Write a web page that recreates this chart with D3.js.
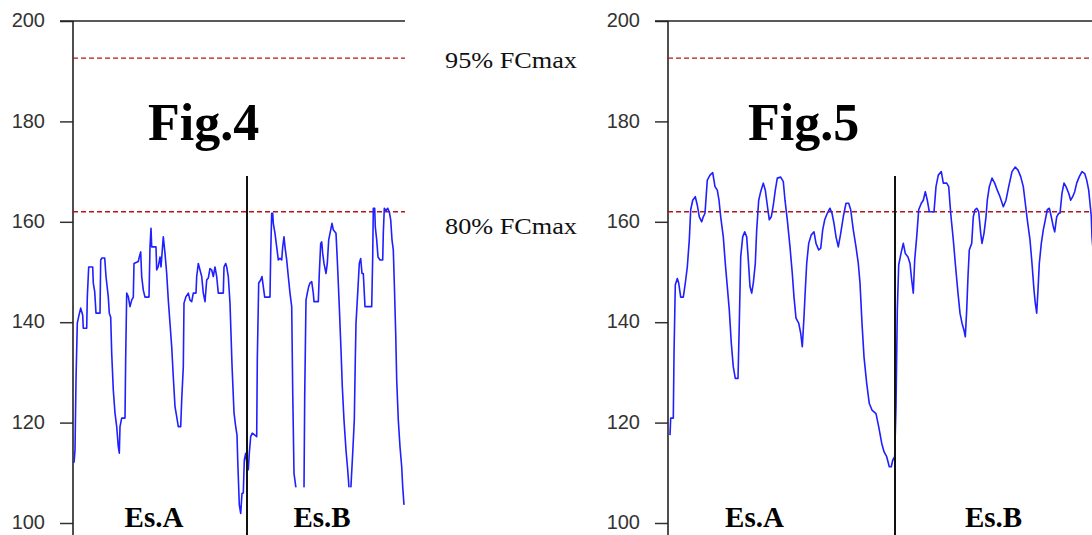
<!DOCTYPE html>
<html><head><meta charset="utf-8">
<script src="https://cdn.jsdelivr.net/npm/d3@7"></script>
<style>
html,body{margin:0;padding:0;background:#fff;}
svg{display:block;}
</style></head>
<body>
<svg id="c" width="1092" height="535"></svg>
<script>
// ---------- DATA ----------
const yTicks = [100, 120, 140, 160, 180, 200];
const thresholdLabels = ["95% FCmax", "80% FCmax"];
const thresholdValues = [192.6, 162];
const sessionLabels = ["Es.A", "Es.B"];

// Fig.4 heart rate trace (time in samples, HR in bpm)
const fig4Time = [
1,2,3,4.3,6,7.7,9.7,10.3,13.7,14.3,
15.7,19.7,20.3,21.7,23,27,27.7,29,31.7,33,
35.3,36.3,37.7,38.7,40.3,42,43.7,45.3,46.3,47,
48.7,52,52.7,53.7,55.3,57,58.7,60.3,61,65.3,
66.3,67.7,68.7,70.3,72,76,77,78,78.7,83,
83.7,85.3,87,88,89.3,90.3,92,93.7,95.3,97,
98.7,100.3,102,103.7,105.3,107.7,108.7,110.3,111,113,
115.3,117,118.7,120.3,123,123.7,125.3,127,128.7,130.3,
132,133.7,135.3,137,138.7,140.3,142,143.7,145.3,150.3,
151,152.7,153.7,155.3,157,159,161,162.5,164,164.8,
166.3,167.7,169,170.3,171.3,172.7,174.3,175.3,176.3,177.7,
179.3,183.7,184.3,185.7,187.7,189,190.3,191.7,197,197.7,
198.7,199.7,200.3,202,203.7,205.3,207,208.7,209.7,211,
212,213.7,215.3,217,218.7,219.7,221,223,225,229,
231,231.7,233,234.3,235.7,237,238.7,240.3,241,245.3,
246.3,247.7,248.7,249.7,251,253,254.3,255.7,257.7,259,
260.3,263,264.3,266.3,268,269.3,271,273,274.7,276,
277,278,279.7,281.3,282.3,283,284.7,286.3,287.7,289,
290.3,292,298.7,299.7,300.3,301.7,302.3,303.7,305,307,
309.7,310.3,311.3,313,314.7,316.3,317.7,319,320.3,321.3,
322.7,323.7,325.3,327,328.7,329.7,331];
const fig4HR = [
112,114.5,128.5,139.8,141.4,142.8,141.4,138.8,138.8,145,
151,151,147.8,146.1,141.8,141.8,152.4,152.8,152.8,149.1,
145,141.8,141,133.8,126.5,121.9,119.2,115.2,113.9,119.2,
120.9,120.9,133.1,145.8,145.1,143.1,144.4,145,151.7,152.1,
153,154,149.1,146.4,145,145,155,158.7,155,155,
150.4,151.1,153,151,154.4,157,153.7,149.7,144.4,139.8,
135.1,129.1,123.2,121.2,119.2,119.2,124.5,131.1,143.8,145.1,
145.8,144.4,144.1,145.8,145.8,149.1,151.7,150.4,149.1,145.8,
144.1,148.4,148.8,150.7,150.4,149.1,151,149.1,145.8,145.8,
151,151.7,151,149.1,143.8,131.5,122,119.5,117.5,112,
103.6,101.9,105.9,106,112.5,113.9,111.2,110.6,113.9,117.2,
117.9,117.2,132.5,147.8,148.4,149.1,147.1,145,145,153.7,
161.7,161.7,159.7,157.7,155,152.4,152.7,152.4,155,157,
155,152.4,149.1,145.8,143.1,126.5,109.9,106.9,104,104,
106.9,125.2,144.4,145.8,147.1,147.8,148.1,145.8,144.1,144.1,
149.7,155.7,156,153.7,151.7,149.7,151.7,156.4,158.4,159.7,
158.4,157.7,152.4,143.1,134.5,127.2,120.5,114.5,110.6,107,
104.5,107.5,113.9,120.5,132.5,139.8,145.8,151.7,152.7,149.7,
149.7,143.1,143.1,153,162.7,162.7,159,156.4,153,152.4,
152.4,157.7,162.7,162.2,162.7,162,160.4,156.4,154.4,147.8,
137.8,128.5,120.5,115.2,111.2,107.2,103.6];

// Fig.5 heart rate trace
const fig5Time = [2,2.7,5.3,6,7.3,9.3,10.7,12.7,15.3,17.3,19.3,21.3,22.7,24.7,27.3,29.3,31.3,33.7,35.3,37,39.3,42,44.7,47,49.3,51,52.7,55.3,57.3,59.3,61.3,63.3,65.3,67.3,70,71.3,72.7,74.7,76.7,78.7,80.3,82,83.7,85.3,87.3,88.7,90.7,92.7,95.3,97.3,99.3,101.3,103.3,105.3,107.3,109.3,112.7,115.3,117,119.3,122,124.3,126,128,130.7,132.7,134.3,136,137.3,138.7,140.7,143.3,146,148,150.7,152.7,154.7,156.7,159.3,162,164,166,168,170.3,172.7,175.3,178,180.7,182.7,185.3,188,190.3,192,194,196,198.7,201.3,204,208,210.7,213.7,216,218.7,221.3,223.3,224.7,226.7,228,229.3,230.7,233,235.3,237.3,240,242,243.7,245.3,246.7,248.7,250.7,253.3,255.3,257.3,259.3,261.3,266,268,270.3,273.3,275.3,278.7,280.7,282.7,285.3,287.3,290,292,294,296,297.3,298.7,300,301.3,303.7,305.3,307,308.7,310.7,312.7,314,316,318,319.3,321.3,324,326.7,329.3,332,335.3,338,340.7,344,347.3,350,352.7,355.3,357.3,359.3,362,364,366,367.3,368.7,370,371.3,373.3,375.3,377.3,379.3,381.3,383.3,385.3,386.7,388.7,390.7,392,394,396,398,400.7,402.7,404.7,406.7,408.7,411.3,414,416.7,418.7,420.7,422,423.3,424,426];
const fig5HR = [117.5,120.9,120.9,133.5,147.4,148.7,147.8,145,145,147.8,151,156.4,162.4,164.3,165,163.3,161,160,161,161.7,168.3,169.3,169.8,167,166.3,164.3,161,157,151.7,147.1,142.4,135.8,131.1,128.8,128.8,139.8,153,157,158,157,152.4,147.1,145.8,147.8,151.7,158.4,164.3,166,167.7,166.3,163.3,160.4,161,163.3,166.3,168.7,168.9,168,164.3,160.4,155,149.7,145,140.8,139.8,137.8,135.1,141.1,146.4,151.7,155.7,157.4,158,155.7,154.4,154.7,158.4,160.4,161.7,162.7,161.7,159.7,157,155,157.7,161,163.7,163.7,162.4,158.4,155,151.7,147.8,139.8,133.1,127.8,123.8,122.5,121.8,119.2,115.9,114.2,113.2,111.2,111.2,112.5,113.2,123.2,142.4,151.4,153.7,155.7,153.7,153,151.7,148.4,145.8,152.4,157,162.4,163.7,164.3,166,164.3,162,162,167,169.3,170,167.7,167.7,167,161.7,156.4,151.7,145.8,141.8,139.8,138.4,137.1,142.4,149.1,154.4,155.7,161,162.4,162.7,162,157.7,155.7,157.7,161,164.3,167,168.7,167.7,166.3,165,163,164.3,167,170,170.9,170.3,169,167,163.7,160.4,156.4,151.7,146.4,143.8,141.8,146.4,151.7,155.7,158.4,160.4,162.4,162.7,161,159,158,161,161.7,161.7,165.7,167.7,167,165.7,164.3,165,166,167.7,169,170,169.6,168.3,166.3,163.7,161,157,152];

// session divider (sample index) and label anchors (sample index)
const fig4Divider = 174, fig5Divider = 227;
const fig4LabelPos = [81, 249];
const fig5LabelPos = [86.5, 325.5];
const dividerTop = 169.1;

// ---------- DRAW ----------
const svg = d3.select("#c");
const y = d3.scaleLinear().domain([100, 200]).range([523, 21]);

function panel(opt) {
  const x = d3.scaleLinear().domain([0, opt.span]).range([opt.x0, opt.x0 + opt.span]);
  const g = svg.append("g");

  const axis = d3.axisLeft(y).tickValues(yTicks).tickSize(13).tickPadding(15).tickFormat(d3.format("d"));
  const ag = g.append("g").attr("transform", `translate(${opt.x0},0)`).call(axis);
  ag.select(".domain").remove();
  ag.selectAll(".tick line").attr("stroke", "#333").attr("stroke-width", 1.5);
  ag.selectAll(".tick text").attr("fill", "#333").style("font-family", "Liberation Sans, Arial, sans-serif")
    .style("font-size", "20px").attr("dy", "0.28em");
  g.append("line").attr("x1", opt.x0).attr("x2", opt.x0).attr("y1", y(200)).attr("y2", 535)
    .attr("stroke", "#222").attr("stroke-width", 1.6);
  g.append("line").attr("x1", opt.x0 - 13).attr("x2", x(opt.span)).attr("y1", y(200)).attr("y2", y(200))
    .attr("stroke", "#222").attr("stroke-width", 1.5);

  g.selectAll("line.thr").data(thresholdValues).join("line").attr("class", "thr")
    .attr("x1", opt.x0).attr("x2", x(opt.span)).attr("y1", d => y(d)).attr("y2", d => y(d))
    .attr("stroke", "#b41414").attr("stroke-width", 1.3).attr("stroke-dasharray", "5,3");

  const pts = opt.time.map((t, i) => [t, opt.hr[i]]);
  g.append("path").datum(pts)
    .attr("fill", "none").attr("stroke", "#1f1fff").attr("stroke-width", 1.6)
    .attr("stroke-linejoin", "round")
    .attr("d", d3.line().x(d => x(d[0])).y(d => y(d[1])));

  g.append("line").attr("x1", x(opt.divider)).attr("x2", x(opt.divider))
    .attr("y1", y(dividerTop)).attr("y2", 535).attr("stroke", "#111").attr("stroke-width", 2);

  sessionLabels.forEach((s, i) => {
    const cx = x(opt.labelPos[i]);
    g.append("rect").attr("x", cx - 36).attr("y", y(107.1)).attr("width", 72).attr("height", 535 - y(107.1))
      .attr("fill", "#fff");
    g.append("text").attr("x", cx).attr("y", 527).attr("text-anchor", "middle")
      .style("font-family", "Liberation Serif, Times New Roman, serif").style("font-weight", "bold")
      .style("font-size", "29px").attr("fill", "#000").text(s);
  });

  g.append("text").attr("x", opt.titleX).attr("y", 140)
    .style("font-family", "Liberation Serif, Times New Roman, serif").style("font-weight", "bold")
    .style("font-size", "52px").attr("fill", "#000").text(opt.title);
}

panel({x0: 73, span: 332, time: fig4Time, hr: fig4HR, divider: fig4Divider, labelPos: fig4LabelPos, title: "Fig.4", titleX: 148});
panel({x0: 668, span: 440, time: fig5Time, hr: fig5HR, divider: fig5Divider, labelPos: fig5LabelPos, title: "Fig.5", titleX: 748});

const annY = [67.5, 233.5];
thresholdLabels.forEach((t, i) => {
  svg.append("text").attr("x", 445).attr("y", annY[i])
    .attr("textLength", 132).attr("lengthAdjust", "spacingAndGlyphs")
    .style("font-family", "Liberation Serif, Times New Roman, serif").style("font-size", "23px")
    .attr("fill", "#111").text(t);
});
</script>
</body></html>
